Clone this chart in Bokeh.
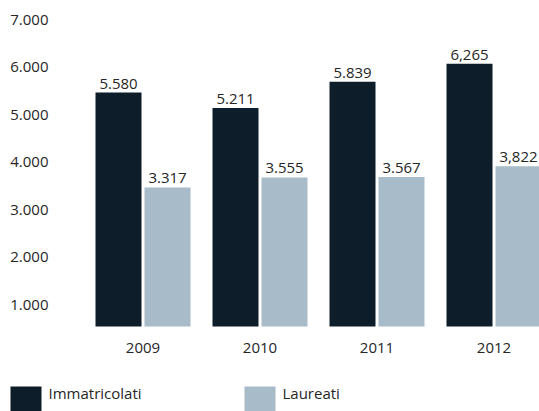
from bokeh.plotting import figure
from bokeh.models import Range1d
from bokeh.core.properties import value
from bokeh.embed import file_html
from bokeh.resources import INLINE

# ---------------- data ----------------
years = ["2009", "2010", "2011", "2012"]
immatricolati = [5580, 5211, 5839, 6265]
laureati = [3317, 3555, 3567, 3822]
immatricolati_labels = ["5.580", "5.211", "5.839", "6,265"]
laureati_labels = ["3.317", "3.555", "3.567", "3,822"]
series_names = ["Immatricolati", "Laureati"]
series_colors = ["#0d1e2a", "#a8bbc8"]
axis_ticks = [1000, 2000, 3000, 4000, 5000, 6000, 7000]
axis_tick_labels = ["1.000", "2.000", "3.000", "4.000", "5.000", "6.000", "7.000"]

# ---------------- style / layout (canvas pixels) ----------------
FONT = "Open Sans"
TEXT = "#262626"
FS = "15px"

W, H = 539, 411
group0_px, group_step_px, bar_w_px, pair_off_px = 142.5, 117.0, 46.0, 24.5
base_px = 326.0                      # bar baseline
bar_px_per_unit = 41.93 / 1000.0
axis_px_per_unit = 47.45 / 1000.0
axis_ref_val, axis_ref_px = 1000.0, 304.0
ylab_right_px = 48.0
xlab_px = 347.0
leg_sq_left_px = [10.0, 244.0]
leg_sq_w_px = 31.0
leg_sq_top_px, leg_sq_bot_px = 386.0, 420.0
leg_txt_px = 392.0


def x_of(px):
    return (px - group0_px) / group_step_px


def y_of(py):
    return (base_px - py) / bar_px_per_unit


def ax_of(py):
    return axis_ref_val + (axis_ref_px - py) / axis_px_per_unit


bar_w = bar_w_px / group_step_px
off = pair_off_px / group_step_px
idx = list(range(len(years)))
x_dark = [i - off for i in idx]
x_light = [i + off for i in idx]

p = figure(width=W, height=H,
           x_range=Range1d(x_of(0), x_of(W)), y_range=Range1d(y_of(H), y_of(0)),
           output_backend="svg", toolbar_location=None,
           x_axis_location=None, y_axis_location=None, min_border=0)
p.min_border_left = p.min_border_right = p.min_border_top = p.min_border_bottom = 0
p.outline_line_color = None
p.grid.visible = False
p.extra_y_ranges = {"ax": Range1d(ax_of(H), ax_of(0))}

# bars
p.vbar(x=x_dark, top=immatricolati, bottom=0, width=bar_w,
       fill_color=series_colors[0], line_color=None)
p.vbar(x=x_light, top=laureati, bottom=0, width=bar_w,
       fill_color=series_colors[1], line_color=None)

txt = dict(text_font=value(FONT), text_font_size=FS, text_color=TEXT)

# value labels
for xs, vals, labs in ((x_dark, immatricolati, immatricolati_labels),
                       (x_light, laureati, laureati_labels)):
    p.text(x=xs, y=vals, text=labs, text_align="center",
           text_baseline="bottom", y_offset=-4, **txt)

# y axis labels (own scale)
p.text(x=[x_of(ylab_right_px)] * len(axis_ticks), y=axis_ticks,
       text=axis_tick_labels, y_range_name="ax",
       text_align="right", text_baseline="middle", **txt)

# x axis labels
p.text(x=idx, y=[y_of(xlab_px)] * len(idx), text=years,
       text_align="center", text_baseline="middle", **txt)

# legend
p.quad(left=[x_of(l) for l in leg_sq_left_px],
       right=[x_of(l + leg_sq_w_px) for l in leg_sq_left_px],
       top=[y_of(leg_sq_top_px)] * 2, bottom=[y_of(leg_sq_bot_px)] * 2,
       fill_color=series_colors, line_color=None)
p.text(x=[x_of(l + leg_sq_w_px + 7) for l in leg_sq_left_px],
       y=[y_of(leg_txt_px)] * 2, text=series_names,
       text_align="left", text_baseline="middle", **txt)

open("out.html", "w").write(file_html(p, INLINE))
